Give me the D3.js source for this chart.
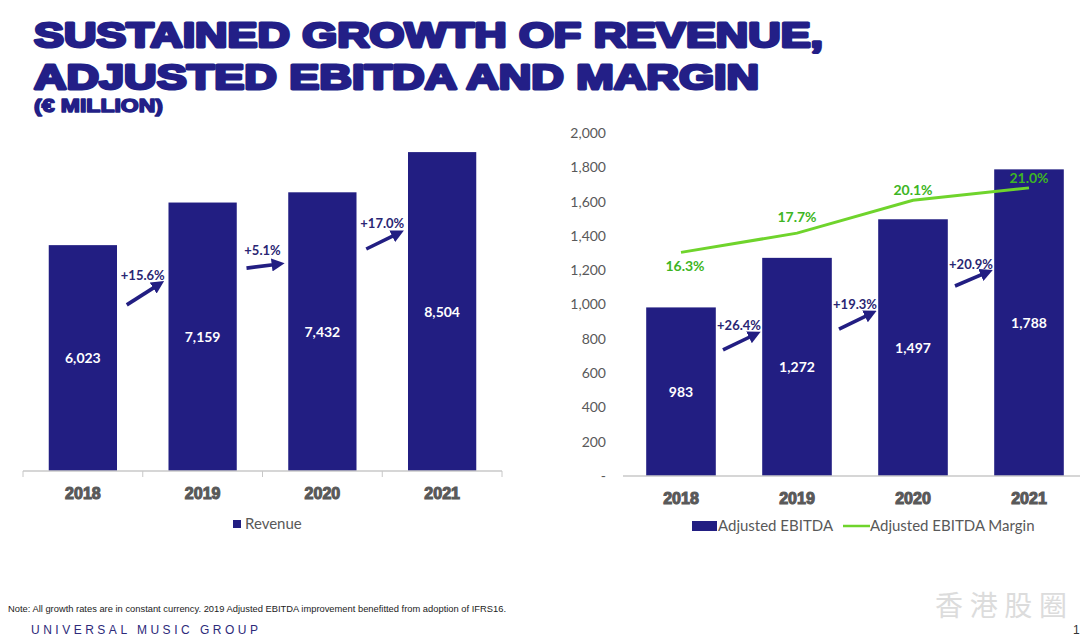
<!DOCTYPE html>
<html>
<head>
<meta charset="utf-8">
<script src="https://cdn.jsdelivr.net/npm/d3@7"></script>
<style>
  html, body { margin: 0; padding: 0; background: #fff; }
  svg { display: block; }
</style>
</head>
<body>
<svg id="chart" width="1080" height="640"></svg>
<script>
// data
const years = ['2018', '2019', '2020', '2021'];
const revenue = [6023, 7159, 7432, 8504];
const revenueGrowth = ['+15.6%', '+5.1%', '+17.0%'];
const ebitda = [983, 1272, 1497, 1788];
const ebitdaMargin = [16.3, 17.7, 20.1, 21.0];
const ebitdaGrowth = ['+26.4%', '+19.3%', '+20.9%'];
const ebitdaTicks = [0, 200, 400, 600, 800, 1000, 1200, 1400, 1600, 1800, 2000];

// where the growth arrows sit, in each chart's value units
const revArrowFrom = [4430, 5410, 5920];
const revArrowTo = [4990, 5520, 6350];
const revLabelAt = [5230, 5890, 6610];
const ebArrowFrom = [735, 857, 1108];
const ebArrowTo = [828, 950, 1190];
const ebLabelAt = [880, 1003, 1236];
// margin label offset from its point (px)
const marginLabelDy = [19, -11, -5, -5];

const NAVY = '#221e82';
const GREEN = '#6fd42c';
const GREEN_TXT = '#3db523';
const GREY = '#595959';
const LABEL_FONT = 'Lato, "Open Sans", sans-serif';
const HEAVY_FONT = '"Liberation Sans", Arial, sans-serif';

const svg = d3.select('#chart');
svg.append('rect').attr('width', 1080).attr('height', 640).attr('fill', '#fff');

const defs = svg.append('defs');
defs.append('marker')
  .attr('id', 'arrowhead')
  .attr('viewBox', '0 0 10 10')
  .attr('refX', 6).attr('refY', 5)
  .attr('markerWidth', 3.6).attr('markerHeight', 3.6)
  .attr('orient', 'auto')
  .append('path').attr('d', 'M0,0 L10,5 L0,10 Z').attr('fill', NAVY);

// title
function heavyText(txt, x, y, size, len) {
  svg.append('text')
    .attr('x', x).attr('y', y)
    .attr('font-family', HEAVY_FONT).attr('font-weight', 900)
    .attr('font-size', size)
    .attr('fill', '#231f87').attr('stroke', '#231f87')
    .attr('stroke-width', size / 12).attr('stroke-linejoin', 'round')
    .attr('textLength', len).attr('lengthAdjust', 'spacingAndGlyphs')
    .text(txt);
}
heavyText('SUSTAINED GROWTH OF REVENUE,', 34, 47, 35, 789);
heavyText('ADJUSTED EBITDA AND MARGIN', 34, 89, 35, 725);
heavyText('(€ MILLION)', 34, 112, 18, 129);

function growthArrows(g, x, y, labels, from, to, at) {
  labels.forEach((lab, i) => {
    const bx = x.range()[0] + x.step() * (i + 1);
    g.append('line')
      .attr('x1', bx - 16).attr('y1', y(from[i]))
      .attr('x2', bx + 17).attr('y2', y(to[i]))
      .attr('stroke', NAVY).attr('stroke-width', 3.6)
      .attr('marker-end', 'url(#arrowhead)');
    g.append('text')
      .attr('x', bx).attr('y', y(at[i]) + 5)
      .attr('text-anchor', 'middle')
      .attr('font-family', LABEL_FONT).attr('font-weight', 700)
      .attr('font-size', 13).attr('fill', '#2a2673')
      .text(lab);
  });
}

function categoryAxis(g, x, y0, x2) {
  g.append('line')
    .attr('x1', x.range()[0]).attr('x2', x2 || x.range()[1])
    .attr('y1', y0).attr('y2', y0)
    .attr('stroke', '#c8c8c8').attr('stroke-width', 1.5);
  g.selectAll('.cat').data(years).enter().append('text')
    .attr('x', d => x(d) + x.bandwidth() / 2)
    .attr('y', y0 + 28)
    .attr('text-anchor', 'middle')
    .attr('font-family', HEAVY_FONT).attr('font-weight', 700)
    .attr('font-size', 16).attr('fill', GREY)
    .attr('stroke', GREY).attr('stroke-width', 1.1)
    .text(d => d);
}

// left: revenue
const left = svg.append('g');
const xL = d3.scaleBand().domain(years).range([23, 502]).paddingInner(0.43).paddingOuter(0.215);
const yL = d3.scaleLinear().domain([0, 10000]).range([471, 96]);

left.selectAll('.bar').data(revenue).enter().append('rect')
  .attr('x', (d, i) => xL(years[i]))
  .attr('y', d => yL(d))
  .attr('width', xL.bandwidth())
  .attr('height', d => yL(0) - yL(d))
  .attr('fill', NAVY);
left.selectAll('.val').data(revenue).enter().append('text')
  .attr('x', (d, i) => xL(years[i]) + xL.bandwidth() / 2)
  .attr('y', d => (yL(d) + yL(0)) / 2 + 5)
  .attr('text-anchor', 'middle')
  .attr('font-family', LABEL_FONT).attr('font-weight', 700)
  .attr('font-size', 14).attr('fill', '#fff')
  .text(d => d3.format(',')(d));
categoryAxis(left, xL, 471);
// boundary ticks
d3.range(years.length + 1).forEach(i => {
  const tx = xL.range()[0] + xL.step() * i;
  left.append('line').attr('x1', tx).attr('x2', tx).attr('y1', 471).attr('y2', 477)
    .attr('stroke', '#c8c8c8').attr('stroke-width', 1);
});
growthArrows(left, xL, yL, revenueGrowth, revArrowFrom, revArrowTo, revLabelAt);

left.append('rect').attr('x', 233).attr('y', 520).attr('width', 8).attr('height', 8).attr('fill', NAVY);
left.append('text').attr('x', 245).attr('y', 529)
  .attr('font-family', LABEL_FONT).attr('font-size', 15).attr('fill', GREY)
  .text('Revenue');

// right: adjusted EBITDA and margin
const right = svg.append('g');
const xR = d3.scaleBand().domain(years).range([623, 1087]).paddingInner(0.4).paddingOuter(0.2);
const yR = d3.scaleLinear().domain([0, 2000]).range([476, 133]);
const yM = d3.scaleLinear().domain([0, 25]).range([476, 133]);

const yAxis = right.append('g')
  .attr('transform', 'translate(612,0)')
  .call(d3.axisLeft(yR).tickValues(ebitdaTicks).tickSize(0).tickPadding(6)
    .tickFormat(d => d === 0 ? '-' : d3.format(',')(d)));
yAxis.select('.domain').remove();
yAxis.selectAll('text')
  .attr('font-family', LABEL_FONT).attr('font-size', 14).attr('fill', GREY);

right.selectAll('.bar').data(ebitda).enter().append('rect')
  .attr('x', (d, i) => xR(years[i]))
  .attr('y', d => yR(d))
  .attr('width', xR.bandwidth())
  .attr('height', d => yR(0) - yR(d))
  .attr('fill', NAVY);
right.selectAll('.val').data(ebitda).enter().append('text')
  .attr('x', (d, i) => xR(years[i]) + xR.bandwidth() / 2)
  .attr('y', d => (yR(d) + yR(0)) / 2 + 5)
  .attr('text-anchor', 'middle')
  .attr('font-family', LABEL_FONT).attr('font-weight', 700)
  .attr('font-size', 14).attr('fill', '#fff')
  .text(d => d3.format(',')(d));
categoryAxis(right, xR, 476, 1080);
growthArrows(right, xR, yR, ebitdaGrowth, ebArrowFrom, ebArrowTo, ebLabelAt);

const line = d3.line()
  .x((d, i) => xR(years[i]) + xR.bandwidth() / 2)
  .y(d => yM(d));
right.append('path').datum(ebitdaMargin)
  .attr('d', line).attr('fill', 'none')
  .attr('stroke', GREEN).attr('stroke-width', 3);
right.selectAll('.pct').data(ebitdaMargin).enter().append('text')
  .attr('x', (d, i) => xR(years[i]) + xR.bandwidth() / 2 + (i === 0 ? 4 : 0))
  .attr('y', (d, i) => yM(d) + marginLabelDy[i])
  .attr('text-anchor', 'middle')
  .attr('font-family', LABEL_FONT).attr('font-weight', 700)
  .attr('font-size', 14).attr('fill', GREEN_TXT)
  .text(d => d.toFixed(1) + '%');

right.append('rect').attr('x', 692).attr('y', 521).attr('width', 25).attr('height', 10).attr('fill', NAVY);
right.append('text').attr('x', 718).attr('y', 531)
  .attr('font-family', LABEL_FONT).attr('font-size', 15).attr('fill', GREY)
  .text('Adjusted EBITDA');
right.append('line').attr('x1', 843).attr('x2', 870).attr('y1', 526).attr('y2', 526)
  .attr('stroke', GREEN).attr('stroke-width', 2.5);
right.append('text').attr('x', 870).attr('y', 531)
  .attr('font-family', LABEL_FONT).attr('font-size', 15).attr('fill', GREY)
  .text('Adjusted EBITDA Margin');

// footer
svg.append('text').attr('x', 8).attr('y', 612)
  .attr('font-family', '"Liberation Sans Narrow", "Liberation Sans", sans-serif')
  .attr('font-size', 9).attr('fill', '#222')
  .attr('textLength', 498).attr('lengthAdjust', 'spacingAndGlyphs')
  .text('Note: All growth rates are in constant currency. 2019 Adjusted EBITDA improvement benefitted from adoption of IFRS16.');
svg.append('text').attr('x', 31).attr('y', 634)
  .attr('font-family', '"Liberation Sans", sans-serif')
  .attr('font-size', 12).attr('fill', '#2d2a7a')
  .attr('textLength', 227).attr('lengthAdjust', 'spacing')
  .text('UNIVERSAL MUSIC GROUP');
svg.append('text').attr('x', 935).attr('y', 616)
  .attr('font-family', '"Noto Sans CJK SC", sans-serif')
  .attr('font-size', 28).attr('fill', '#dcdcdc')
  .attr('textLength', 132).attr('lengthAdjust', 'spacing')
  .text('香港股圈');
svg.append('text').attr('x', 1073).attr('y', 634)
  .attr('font-family', '"Liberation Sans", sans-serif')
  .attr('font-size', 12).attr('fill', '#333')
  .text('1');
</script>
</body>
</html>
